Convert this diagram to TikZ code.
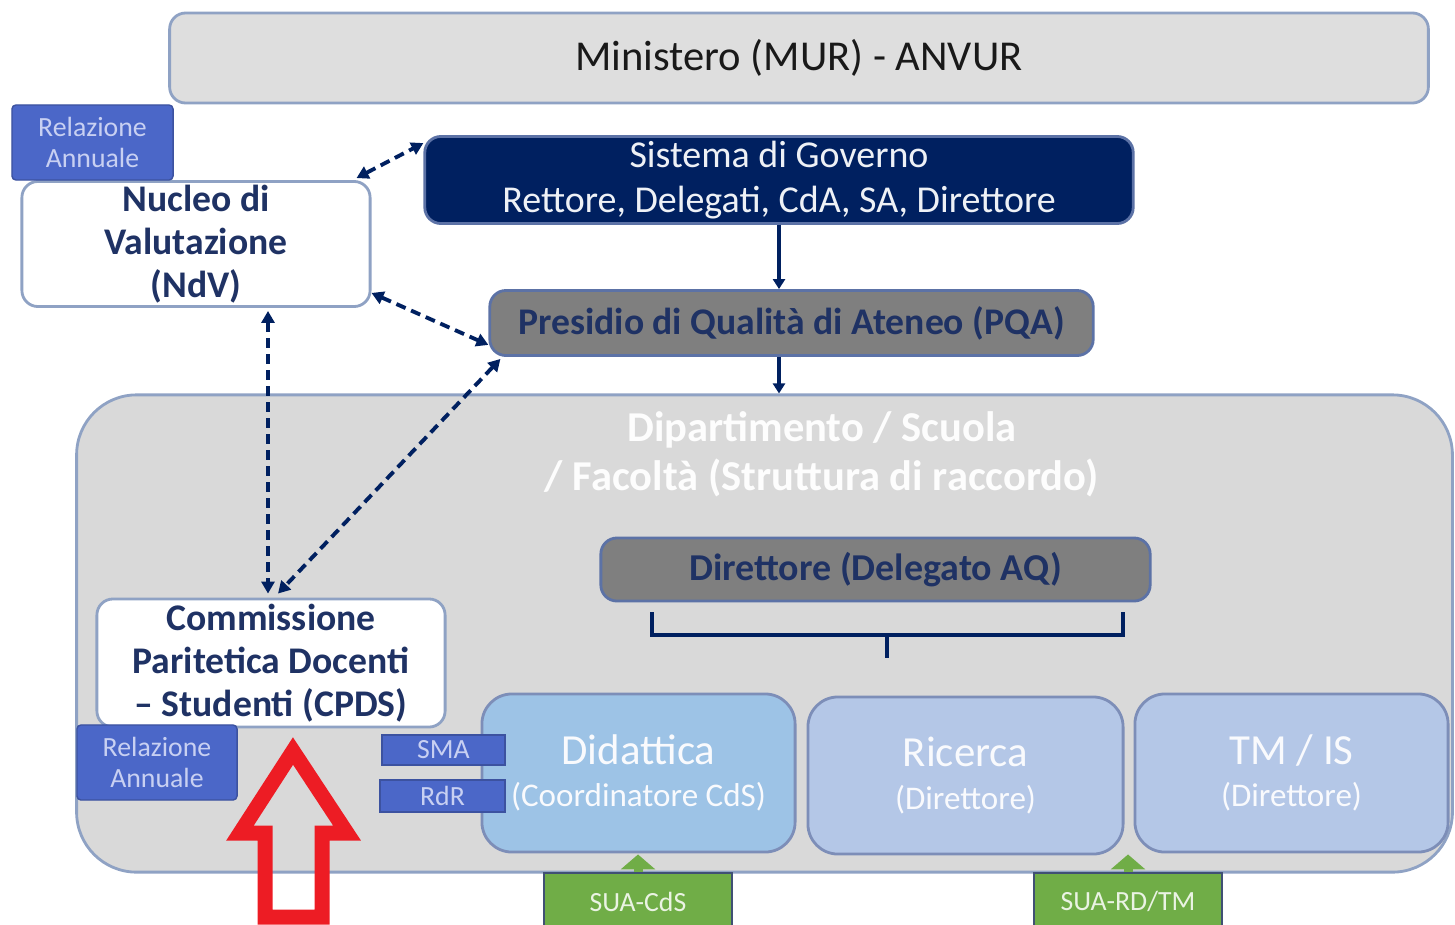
\documentclass[tikz,border=0pt]{standalone}
\usepackage{fontspec}
\setmainfont{Carlito}
\usepackage{xcolor}
\usepackage{tikz}
\usetikzlibrary{arrows.meta,positioning,calc}

\definecolor{govnavy}{HTML}{002060}
\definecolor{textnavy}{HTML}{1F3264}
\definecolor{edgeblue}{HTML}{8FA2C4}
\definecolor{edgedark}{HTML}{5C72A6}
\definecolor{panelgray}{HTML}{D9D9D9}
\definecolor{topgray}{HTML}{DEDEDE}
\definecolor{midgray}{HTML}{7F7F7F}
\definecolor{tagblue}{HTML}{4B67C8}
\definecolor{tagtext}{HTML}{C8D0F2}
\definecolor{didblue}{HTML}{9DC3E6}
\definecolor{areablue}{HTML}{B4C7E7}
\definecolor{suagreen}{HTML}{70AD47}
\definecolor{redarrow}{HTML}{ED1C24}

\begin{document}
\begin{tikzpicture}[
    x=0.01cm, y=-0.01cm,
    box/.style={rectangle, draw=edgeblue, line width=0.8pt, rounded corners=0.16cm,
                inner sep=0pt, align=center},
    whitebox/.style={box, fill=white, text=textnavy,
                     font=\fontsize{10.7}{12.2}\selectfont\bfseries},
    graybox/.style={box, draw=edgedark, fill=midgray, text=textnavy,
                    font=\fontsize{10.7}{12}\selectfont\bfseries},
    tag/.style={rectangle, draw=tagblue!80!black, line width=0.4pt, fill=tagblue,
                rounded corners=0.04cm, inner sep=0pt, align=center, text=tagtext,
                font=\fontsize{7.9}{9}\selectfont},
    area/.style={box, draw=edgedark!80, fill=areablue, rounded corners=0.3cm,
                 text=white!92!areablue},
    sua/.style={rectangle, draw=edgedark!70!black, line width=0.8pt, fill=suagreen,
                inner sep=0pt, text=white!85!suagreen, font=\fontsize{7.9}{9}\selectfont},
    link/.style={{Triangle[length=0.12cm, width=0.13cm]}-{Triangle[length=0.12cm, width=0.13cm]},
                 draw=govnavy, line width=1.1pt, dash pattern=on 0.1cm off 0.06cm},
    down/.style={-{Triangle[length=0.1cm, width=0.12cm]}, draw=govnavy, line width=1.1pt},
    greenup/.style={-{Triangle[length=0.15cm, width=0.34cm]}, draw=suagreen, line width=0.09cm},
]
\useasboundingbox (0,0) rectangle (1455,924);

% Top level
\node[box, fill=topgray, minimum width=12.58cm, minimum height=0.90cm,
      text=black!90, font=\fontsize{12.1}{14}\selectfont] (mur) at (799,58) {Ministero (MUR) - ANVUR};
\node[whitebox, minimum width=3.48cm, minimum height=1.25cm] (ndv) at (196,244)
     {Nucleo di\\Valutazione\\(NdV)};
\node[tag, minimum width=1.61cm, minimum height=0.75cm] (reltop) at (92.5,142.5) {Relazione\\Annuale};
\node[box, draw=edgedark, fill=govnavy, minimum width=7.08cm, minimum height=0.87cm,
      text=white!85!edgeblue, font=\fontsize{10.8}{12.6}\selectfont] (gov) at (779,180)
     {Sistema di Governo\\Rettore, Delegati, CdA, SA, Direttore};
\node[graybox, minimum width=6.03cm, minimum height=0.65cm] (pqa) at (791.5,323)
     {Presidio di Qualità di Ateneo (PQA)};

% Department panel
\node[box, fill=panelgray, rounded corners=0.6cm, minimum width=13.75cm,
      minimum height=4.77cm] (dip) at (764.5,633.5) {};
\node[text=white!95!panelgray, align=center, font=\fontsize{12.1}{14}\selectfont\bfseries]
     (diptitle) at (822,454) {Dipartimento / Scuola\\/ Facoltà (Struttura di raccordo)};
\node[graybox, minimum width=5.49cm, minimum height=0.63cm,
      font=\fontsize{10.8}{12}\selectfont\bfseries] (dir) at (875.5,569.5) {Direttore (Delegato AQ)};
\node[whitebox, minimum width=3.48cm, minimum height=1.28cm] (cpds) at (271,663)
     {Commissione\\Paritetica Docenti\\– Studenti (CPDS)};
\node[tag, minimum width=1.60cm, minimum height=0.75cm] (relbot) at (157,762.5) {Relazione\\Annuale};

% Areas
\node[area, fill=didblue, minimum width=3.13cm, minimum height=1.58cm] (did) at (638.5,773)
     {{\fontsize{12.2}{14}\selectfont Didattica}\\{\fontsize{9.4}{11}\selectfont (Coordinatore CdS)}};
\node[area, minimum width=3.15cm, minimum height=1.57cm] (ric) at (965.5,775.5)
     {{\fontsize{12.2}{14}\selectfont Ricerca}\\{\fontsize{9.4}{11}\selectfont (Direttore)}};
\node[area, minimum width=3.13cm, minimum height=1.58cm] (tm) at (1291.5,773)
     {{\fontsize{12.2}{14}\selectfont TM / IS}\\{\fontsize{9.4}{11}\selectfont (Direttore)}};
\node[tag, minimum width=1.23cm, minimum height=0.30cm, rounded corners=0pt] (sma) at (443.5,750) {SMA};
\node[tag, minimum width=1.25cm, minimum height=0.32cm, rounded corners=0pt] (rdr) at (442.5,796) {RdR};

% SUA documents
\node[sua, minimum width=1.88cm, minimum height=0.57cm] (suacds) at (638,901.5) {SUA-CdS};
\node[sua, minimum width=1.88cm, minimum height=0.57cm] (suard) at (1128,901.5) {SUA-RD/TM};

% Bracket under the director
\draw[govnavy, line width=1.2pt] (652,612) -- (652,635) -- (1123,635) -- (1123,612);
\draw[govnavy, line width=1.2pt] (887,635) -- (887,658);

% Main flow
\draw[down] (gov.south) -- (gov.south |- pqa.north);
\draw[down] (pqa.south -| gov.south) -- (gov.south |- dip.north);

% Evaluation links
\draw[link] ($(ndv.north east)+(-15,-2)$) -- ($(gov.north west)+(0,8)$);
\draw[link] ($(ndv.south east)+(0,-15)$) -- ($(pqa.south west)+(0,-12)$);
\draw[link] ($(pqa.south west)+(12,2)$) -- ($(cpds.north)+(7,-4)$);
\draw[link] ($(ndv.south)+(72,3)$) -- ($(cpds.north)+(-3,-4)$);

% Document flow
\draw[greenup] (suacds.north) -- ($(suacds.north |- did.south)+(0,1)$);
\draw[greenup] (suard.north) -- ($(suard.north |- ric.south)+(0,-1)$);

% Focus arrow
\draw[redarrow, line width=0.15cm, miter limit=10]
    (293,751) -- (240,833) -- (265,833) -- (265,917) -- (322,917) -- (322,833) -- (347,833) -- cycle;

\end{tikzpicture}
\end{document}
